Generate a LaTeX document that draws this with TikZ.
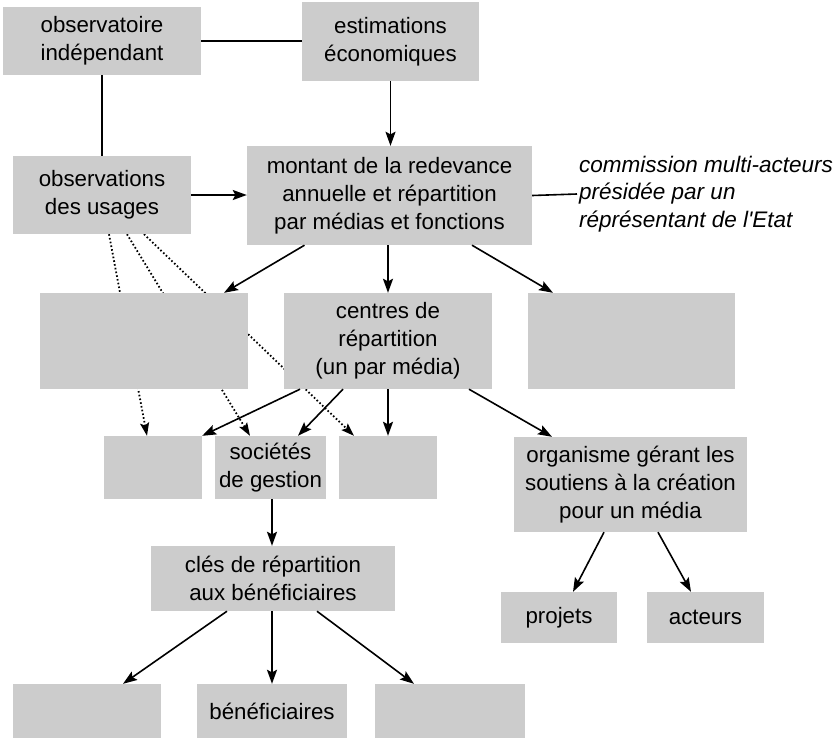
\documentclass[tikz,border=0pt]{standalone}
\usepackage{fontspec}
\setmainfont{Liberation Sans}
\usetikzlibrary{arrows.meta,backgrounds}
\definecolor{boxgray}{HTML}{CCCCCC}
\begin{document}
\begin{tikzpicture}[x=1pt,y=-1pt,
  font=\fontsize{22.3}{28}\selectfont,
  box/.style={fill=boxgray,draw=none,inner sep=0pt,align=center},
  conn/.style={line width=1.6pt,black},
  arr/.style={conn,-{Stealth[length=14pt,width=10pt,inset=2.5pt]}},
  dots/.style={line width=1.8pt,dash pattern=on 1.6pt off 2.2pt,-{Stealth[length=13pt,width=9pt,inset=2.5pt]}}]
\useasboundingbox (0,0) rectangle (839,740);
% row 1
\node[box,minimum width=198pt,minimum height=68pt] (obsind) at (102,41) {observatoire\\indépendant};
\node[box,minimum width=177pt,minimum height=79pt] (estim) at (390.5,41.5) {estimations\\économiques};
% row 2
\node[box,minimum width=178pt,minimum height=78pt] (obsus) at (102,195) {observations\\des usages};
\node[box,minimum width=285pt,minimum height=99pt] (montant) at (389.5,195.5) {montant de la redevance\\annuelle et répartition\\par médias et fonctions};
\node[anchor=west,align=left,inner sep=0pt,font=\fontsize{22.5}{27.5}\selectfont\itshape] (comm) at (579,194) {commission multi-acteurs\\présidée par un\\réprésentant de l\textquotesingle Etat};
% row 3
\node[box,minimum width=208pt,minimum height=96pt] (emptyL) at (144,341) {};
\node[box,minimum width=208pt,minimum height=96pt] (centres) at (388,341) {centres de\\répartition\\(un par média)};
\node[box,minimum width=207pt,minimum height=96pt] (emptyR) at (631.5,341) {};
% row 4
\node[box,minimum width=98pt,minimum height=63pt] (small1) at (153,467.5) {};
\node[box,minimum width=111pt,minimum height=63pt] (societes) at (270.5,467.5) {sociétés\\de gestion};
\node[box,minimum width=98pt,minimum height=63pt] (small3) at (388,467.5) {};
\node[box,minimum width=233pt,minimum height=95pt] (organisme) at (630.5,484.5) {organisme gérant les\\soutiens à la création\\pour un média};
% row 5
\node[box,minimum width=244pt,minimum height=65pt] (cles) at (273,578.5) {clés de répartition\\aux bénéficiaires};
\node[box,minimum width=116pt,minimum height=51pt] (projets) at (559,617.5) {projets};
\node[box,minimum width=117pt,minimum height=51pt] (acteurs) at (705.5,617.5) {acteurs};
% row 6
\node[box,minimum width=148pt,minimum height=54pt] (bottom1) at (87,711) {};
\node[box,minimum width=150pt,minimum height=54pt] (benef) at (272,711) {bénéficiaires};
\node[box,minimum width=150pt,minimum height=54pt] (bottom3) at (450,711) {};
% dotted connectors behind boxes
\begin{pgfonlayer}{background}
\draw[dots] ([xshift=7pt]obsus.south) -- ([xshift=-6pt]small1.north);
\draw[dots] ([xshift=25pt]obsus.south) -- ([xshift=-20.5pt]societes.north);
\draw[dots] ([xshift=42pt]obsus.south) -- ([xshift=-34pt]small3.north);
\end{pgfonlayer}
% solid connectors
\draw[conn] (obsind.east) -- (obsind.east -| estim.west);
\draw[conn] (obsind.south) -- (obsus.north);
\draw[arr] (estim.south) -- (estim.south |- montant.north);
\draw[arr] (obsus.east) -- (obsus.east -| montant.west);
\draw[conn] (montant.east) -- ([xshift=-2pt]comm.west);
\draw[arr] ([xshift=-85pt]montant.south) -- ([xshift=80pt]emptyL.north);
\draw[arr] (montant.south -| centres.north) -- (centres.north);
\draw[arr] ([xshift=82.5pt]montant.south) -- ([xshift=-78.5pt]emptyR.north);
\draw[arr] ([xshift=-88pt]centres.south) -- (small1.north east);
\draw[arr] ([xshift=-45pt]centres.south) -- ([xshift=27.5pt]societes.north);
\draw[arr] (centres.south) -- (small3.north);
\draw[arr] ([xshift=81pt]centres.south) -- ([xshift=-78.5pt]organisme.north);
\draw[arr] ([xshift=1.5pt]societes.south) -- ([xshift=1.5pt]societes.south |- cles.north);
\draw[arr] ([xshift=-46pt]cles.south) -- ([xshift=36pt]bottom1.north);
\draw[arr] ([xshift=-1pt]cles.south) -- (benef.north);
\draw[arr] ([xshift=44pt]cles.south) -- ([xshift=-36pt]bottom3.north);
\draw[arr] ([xshift=-26.5pt]organisme.south) -- ([xshift=14pt]projets.north);
\draw[arr] ([xshift=27.5pt]organisme.south) -- ([xshift=-14.5pt]acteurs.north);
\end{tikzpicture}
\end{document}
